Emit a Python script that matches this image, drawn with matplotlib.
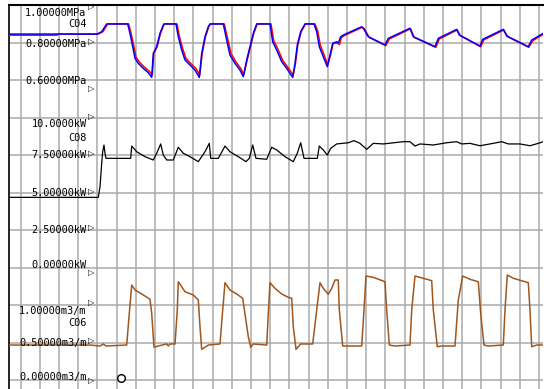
import matplotlib
matplotlib.use("Agg")
import matplotlib.pyplot as plt
import numpy as np

# ---------------- data (time axis in sample units, one grid = 19.2) ----------------
grid_t = np.arange(20.5, 540, 19.2)

# C04 pressure, MPa (blue and red traces)
p_blue_t = [9, 97.3, 101.7, 106.7, 127.7, 130, 132.7, 135, 138.3, 143.3, 148.3, 151.7,
            153.3, 156.7, 160, 163.3, 164, 176, 178.3, 181.7, 185, 190, 195, 199.3,
            201.7, 205, 208.3, 210, 223.3, 226.7, 230, 235, 240, 243.3, 246.7, 250,
            253.3, 256.7, 270, 272.7, 276.7, 281.7, 286.7, 292.7, 295, 297.3, 300.7,
            305, 314, 316.7, 319.3, 323.3, 327.3, 330, 332.7, 336.7, 338.5, 340.7,
            343.3, 361.7, 363.3, 368.3, 385, 388.3, 410, 413.3, 435, 438.3, 456.7,
            459.3, 480, 482.7, 503.3, 506.7, 528.3, 531.7, 543.3]
p_blue_v = [0.846, 0.846, 0.859, 0.900, 0.900, 0.850, 0.779, 0.717, 0.690, 0.663, 0.640, 0.615,
            0.743, 0.779, 0.850, 0.894, 0.900, 0.900, 0.832, 0.761, 0.708, 0.681, 0.654, 0.615,
            0.743, 0.832, 0.885, 0.900, 0.900, 0.814, 0.734, 0.690, 0.654, 0.619, 0.708, 0.779,
            0.850, 0.900, 0.900, 0.805, 0.761, 0.699, 0.663, 0.615, 0.690, 0.788, 0.859,
            0.900, 0.900, 0.859, 0.779, 0.725, 0.672, 0.734, 0.797, 0.805, 0.800, 0.832,
            0.841, 0.885, 0.877, 0.832, 0.788, 0.823, 0.877, 0.832, 0.779, 0.823, 0.871,
            0.841, 0.782, 0.818, 0.871, 0.836, 0.779, 0.814, 0.850]

p_red_t = [9, 57, 57.5, 98, 103, 107.7, 128.7, 131, 133.7, 136, 139.3, 144.3, 149.3, 152.3,
           153.8, 157.2, 160.5, 163.8, 164.5, 177, 179.3, 182.7, 186, 191, 196, 199.8,
           202.2, 205.5, 208.8, 210.5, 224.3, 227.7, 231, 236, 241, 243.8, 247.2, 250.5,
           253.8, 257.2, 271, 273.7, 277.7, 282.7, 287.7, 293.2, 295.5, 297.8, 301.2,
           305.5, 315, 317.7, 320.3, 324.3, 327.8, 330.5, 333.2, 337.7, 339.5, 341.2,
           344.3, 362.2, 364.3, 369.3, 385.8, 389.3, 410.5, 414.3, 435.8, 439.3, 457.2,
           460.3, 480.8, 483.7, 503.8, 507.7, 528.8, 532.7, 543.3]
p_red_v = [0.840, 0.840, 0.846, 0.846, 0.859, 0.900, 0.900, 0.852, 0.785, 0.724, 0.697, 0.670, 0.648, 0.628,
           0.743, 0.779, 0.850, 0.894, 0.900, 0.900, 0.836, 0.768, 0.716, 0.688, 0.662, 0.628,
           0.743, 0.832, 0.885, 0.900, 0.900, 0.820, 0.742, 0.697, 0.661, 0.630, 0.708, 0.779,
           0.850, 0.900, 0.900, 0.812, 0.768, 0.706, 0.670, 0.628, 0.690, 0.788, 0.859,
           0.900, 0.900, 0.862, 0.786, 0.732, 0.682, 0.734, 0.797, 0.797, 0.790, 0.826,
           0.838, 0.882, 0.874, 0.828, 0.784, 0.820, 0.874, 0.828, 0.775, 0.820, 0.868,
           0.838, 0.778, 0.815, 0.868, 0.832, 0.775, 0.810, 0.846]

# C08 power, kW
k_t = [9, 98.3, 100, 101.7, 102.7, 104, 105, 106, 130.7, 131.7, 136.7, 145, 153.3, 156.7,
       160.7, 163.3, 166.7, 173.3, 178.3, 183.3, 190, 198.3, 205, 209.3, 210.7, 218.3,
       225, 230, 238.3, 246, 249.3, 252.7, 256, 266.7, 271.7, 276.7, 285, 293.3, 297.3,
       300.7, 304, 317.3, 319.3, 323.3, 327.3, 330.7, 336.7, 348.3, 354, 360, 366.7,
       373.3, 383.3, 403.3, 410, 415, 420, 433.3, 446.7, 456.7, 461.7, 470, 480, 493.3,
       501.7, 508.3, 520, 530, 538.3, 543.3]
k_v = [4.69, 4.69, 5.40, 6.96, 7.73, 8.18, 7.63, 7.29, 7.29, 8.11, 7.73, 7.40, 7.18, 7.63,
       8.25, 7.51, 7.18, 7.18, 8.03, 7.63, 7.40, 7.07, 7.73, 8.29, 7.29, 7.29,
       8.11, 7.73, 7.40, 7.07, 7.29, 8.18, 7.29, 7.23, 8.03, 7.85, 7.40, 7.07, 7.63,
       8.33, 7.29, 7.29, 8.11, 7.85, 7.51, 7.96, 8.25, 8.33, 8.47, 8.29, 7.89,
       8.29, 8.25, 8.40, 8.40, 8.11, 8.25, 8.18, 8.33, 8.40, 8.25, 8.29, 8.13, 8.29,
       8.40, 8.25, 8.25, 8.13, 8.29, 8.40]

# C06 flow, m3/m
f_t = [9, 90, 100, 103.3, 106, 126.7, 129.3, 131.7, 135, 143.3, 150, 151.7, 154, 158.3,
       166.7, 168.3, 170, 175, 177.3, 178.3, 185, 193.3, 198.3, 200, 201.7, 208.3, 220,
       222.7, 225, 230, 236.7, 242.7, 248.3, 250.7, 253.3, 266.7, 268.3, 270, 275, 281.7,
       288.3, 291.7, 293.3, 296, 300.7, 312.7, 316.7, 320, 323.3, 328.3, 331.7, 335,
       338.3, 339.3, 342.7, 361.7, 364, 366, 373.3, 385, 386.7, 389.3, 395, 410, 411.7,
       415, 423.3, 431.7, 433.3, 437.3, 441.7, 455, 458.3, 462.7, 470, 478.3, 480.7, 484,
       488.3, 503.3, 505, 507.3, 513.3, 528.3, 530, 531.7, 536.7, 543.3]
f_v = [0.469, 0.469, 0.456, 0.483, 0.456, 0.469, 0.892, 1.269, 1.203, 1.136, 1.079, 0.892, 0.439, 0.456,
       0.483, 0.456, 0.483, 0.483, 0.936, 1.313, 1.180, 1.136, 1.069, 0.713, 0.412, 0.469, 0.483,
       0.936, 1.300, 1.203, 1.149, 1.092, 0.580, 0.439, 0.483, 0.469, 0.892, 1.300, 1.225, 1.149,
       1.105, 1.092, 0.713, 0.412, 0.483, 0.483, 0.936, 1.300, 1.225, 1.145, 1.225, 1.336,
       1.336, 0.936, 0.456, 0.456, 0.936, 1.389, 1.372, 1.313, 0.936, 0.469, 0.456, 0.469, 0.936,
       1.389, 1.359, 1.327, 0.936, 0.447, 0.456, 0.456, 1.069, 1.389, 1.345, 1.313, 0.892, 0.469,
       0.456, 0.469, 0.936, 1.403, 1.359, 1.300, 0.936, 0.447, 0.469, 0.469]

# axis labels: (text, value, vertical offset in px (+ up), marker offset in px (+ up))
p_labels = [("1.00000MPa", 1.0, -8.1, -1.3), ("0.80000MPa", 0.8, -1.1, 1.2), ("0.60000MPa", 0.6, -0.8, -8.8)]
k_labels = [("10.0000kW", 10.0, -6.3, 1.0), ("7.50000kW", 7.5, -0.3, 1.2), ("5.00000kW", 5.0, 0.0, 1.0),
            ("2.50000kW", 2.5, 0.0, 2.2), ("0.00000kW", 0.0, 2.2, -5.3)]
f_labels = [("1.00000m3/m", 1.0, -5.6, 2.2), ("0.50000m3/m", 0.5, 0.0, 1.7), ("0.00000m3/m", 0.0, 3.5, -0.5)]
channels = [("C04", "p", 1.0, -18.8), ("C08", "k", 10.0, -20.3), ("C06", "f", 1.0, -18.1)]

# ---------------- figure ----------------
W, H = 550, 389
fig = plt.figure(figsize=(W / 100, H / 100), dpi=100)
fig.patch.set_facecolor("white")
rect = [9 / W, 0, (543 - 9) / W, (389 - 5.2) / H]

ax = fig.add_axes(rect)          # m3/m axis, carries the grid
axk = fig.add_axes(rect)         # kW
axp = fig.add_axes(rect)         # MPa
for a in (axk, axp):
    a.patch.set_alpha(0)

xlim = (9, 543)
ax.set_ylim(-0.1173, 5.0)
axk.set_ylim(-8.087, 17.5)
axp.set_ylim(-1.0469, 1.0)
for a in (ax, axk, axp):
    a.set_xlim(*xlim)
    a.set_xticks([])
    a.set_yticks([])
    for s in a.spines.values():
        s.set_visible(False)

ax.set_xticks(grid_t)
ax.set_yticks(np.arange(0, 5.01, 0.5))
ax.tick_params(length=0, labelbottom=False, labelleft=False)
ax.grid(True, color="#a9a9a9", lw=1.1)
ax.set_axisbelow(True)
ax.spines["top"].set_visible(True)
ax.spines["left"].set_visible(True)
ax.spines["top"].set_color("black")
ax.spines["left"].set_color("black")
ax.spines["top"].set_linewidth(1.5)
ax.spines["left"].set_linewidth(1.2)

# traces
ax.plot(f_t, f_v, color="#a0561c", lw=1.1, zorder=3)
axk.plot(k_t, k_v, color="black", lw=0.9, zorder=3)
axp.plot(p_red_t, p_red_v, color="#ff0000", lw=1.1, zorder=3)
axp.plot(p_blue_t, p_blue_v, color="#0000ff", lw=1.1, zorder=4)

font = dict(family="DejaVu Sans Mono", size=7.4, color="black")
pt = 0.72  # px -> points

def put_labels(a, labels):
    for text, val, dy, mdy in labels:
        a.annotate(text, xy=(86.5, val), xytext=(0, dy * pt), textcoords="offset points",
                   ha="right", va="center", zorder=5, **font)
        a.annotate("\u25b7", xy=(91, val), xytext=(0, mdy * pt), textcoords="offset points",
                   ha="center", va="center", fontsize=6, color="black", zorder=5)

put_labels(axp, p_labels)
put_labels(axk, k_labels)
put_labels(ax, f_labels)
axes_by = {"p": axp, "k": axk, "f": ax}
for name, key, val, dy in channels:
    axes_by[key].annotate(name, xy=(86.5, val), xytext=(0, dy * pt), textcoords="offset points",
                          ha="right", va="center", zorder=5, **font)

# small cursor circle
ax.plot([120.7], [0.025], marker="o", ms=5.5, mfc="white", mec="black", mew=1.0, zorder=6,
        clip_on=False)

fig.savefig("out.png", dpi=100)
